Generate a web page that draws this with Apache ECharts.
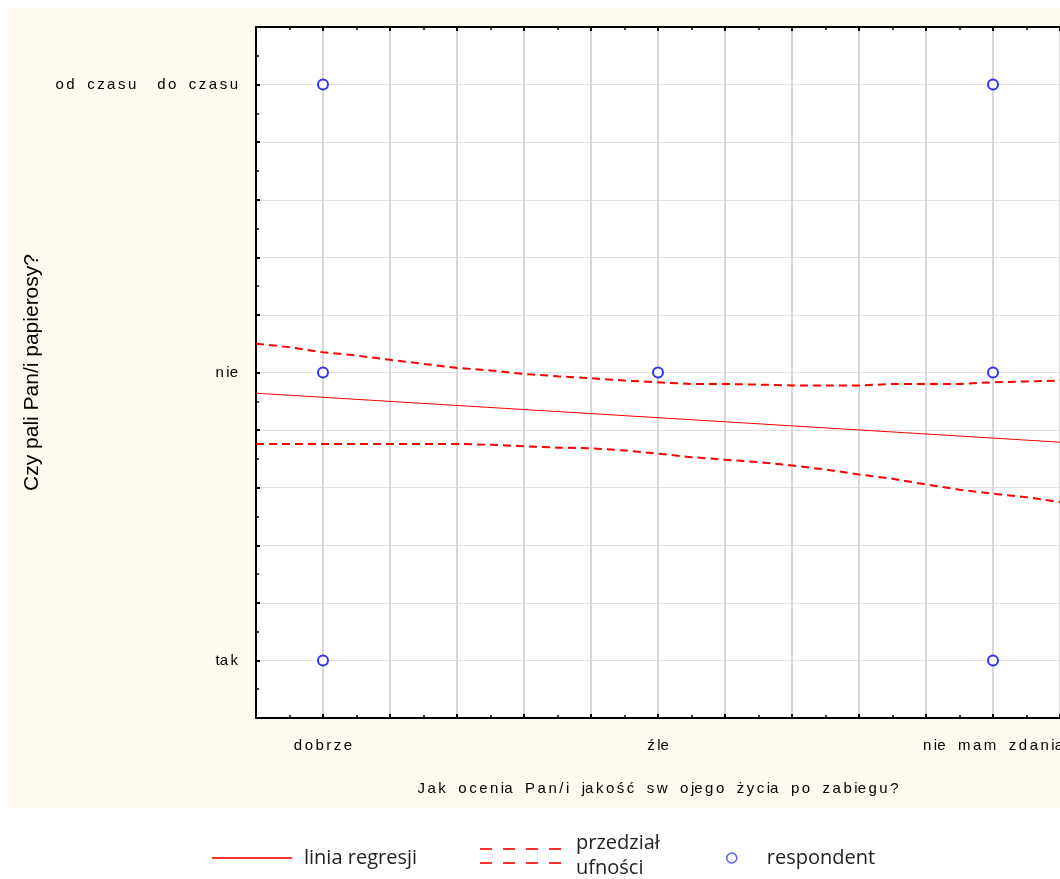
<!DOCTYPE html>
<html>
<head>
<meta charset="utf-8">
<script src="https://cdn.jsdelivr.net/npm/echarts@6/dist/echarts.min.js"></script>
<style>
html,body{margin:0;padding:0;background:#fff;}
#chart{width:1060px;height:879px;}
</style>
</head>
<body>
<div id="chart"></div>
<script>
// ---- data ----
const xCategories = ['dobrze', 'źle', 'nie mam zdania'];
const yCategories = ['tak', 'nie', 'od czasu do czasu'];
// tick labels as printed (letter-spaced: "_" = narrow gap, " " = word gap)
const xTickLabels = ['d_o_b_r_z_e', 'ź_le', 'n_ie   m_a_m   z_d_a_n_ia'];
const yTickLabels = ['ta_k', 'n_ie', 'o_d   c_z_a_s_u     d_o   c_z_a_s_u'];
const xTitle = 'J_a_k   o_c_e_n_ia   P_a_n_/_i   ja_k_o_ś_ć   s_w   o_je_g_o   ż_y_c_ia   p_o   z_a_b_ie_g_u_?';
const yTitle = 'Czy pali Pan/i papierosy?';
// respondents: [x category index (1-based), y category index (1-based)]
const respondents = [[1, 3], [3, 3], [1, 2], [2, 2], [3, 2], [1, 1], [3, 1]];
// regression line endpoints
const regression = [[0.8, 1.928], [3.2, 1.758]];
// confidence band
const bandX = [0.8, 0.9, 1.0, 1.1, 1.2, 1.3, 1.4, 1.5, 1.6, 1.7, 1.8, 1.9, 2.0, 2.1, 2.2, 2.3, 2.4, 2.5, 2.6, 2.7, 2.8, 2.9, 3.0, 3.1, 3.2];
const upperBand = [2.100, 2.088, 2.070, 2.059, 2.044, 2.030, 2.016, 2.007, 1.995, 1.987, 1.980, 1.972, 1.966, 1.960, 1.960, 1.958, 1.955, 1.955, 1.955, 1.960, 1.960, 1.960, 1.966, 1.969, 1.972];
const lowerBand = [1.752, 1.752, 1.752, 1.752, 1.752, 1.752, 1.752, 1.749, 1.744, 1.739, 1.737, 1.729, 1.718, 1.706, 1.697, 1.689, 1.677, 1.663, 1.646, 1.631, 1.611, 1.593, 1.579, 1.567, 1.550];

// ---- chart ----
const spaced = s => s.replace(/_/g, '\u2006');
const axisFont = '"Liberation Sans", Arial, sans-serif';
const isInt = v => Math.abs(v - Math.round(v)) < 1e-6;
const legendFont = '"Open Sans", "Noto Sans", sans-serif';

const chart = echarts.init(document.getElementById('chart'));
const option = {
  animation: false,
  backgroundColor: '#ffffff',
  graphic: [{
    type: 'rect', z: -100, silent: true,
    shape: { x: 8, y: 8, width: 1052, height: 800 },
    style: { fill: '#fefaf0' }
  }],
  grid: { left: 256, right: 0, top: 27, bottom: 161, containLabel: false, outerBoundsMode: 'none',
          show: true, backgroundColor: '#ffffff', borderWidth: 0 },
  xAxis: [{
    type: 'value', min: 0.8, max: 3.2, interval: 0.2,
    position: 'bottom',
    axisLine: { show: true, onZero: false, lineStyle: { color: '#000', width: 2 } },
    axisTick: { show: true, inside: true, length: 4, lineStyle: { color: '#000', width: 2 } },
    minorTick: { show: true, splitNumber: 2, length: 3, lineStyle: { color: '#000', width: 1.5 } },
    splitLine: { show: true, lineStyle: { color: '#d8d8d8', width: 2 } },
    axisLabel: {
      margin: 20, color: '#000', fontFamily: axisFont, fontSize: 15,
      formatter: v => isInt(v) && xTickLabels[Math.round(v) - 1] ? spaced(xTickLabels[Math.round(v) - 1]) : ''
    },
    name: spaced(xTitle), nameLocation: 'middle', nameGap: 63, nameMoveOverlap: false,
    nameTextStyle: { color: '#000', fontFamily: axisFont, fontSize: 15 }
  }, {
    type: 'value', min: 0.8, max: 3.2, interval: 0.2,
    position: 'top',
    axisLine: { show: true, onZero: false, lineStyle: { color: '#000', width: 2 } },
    axisTick: { show: true, inside: true, length: 4, lineStyle: { color: '#000', width: 2 } },
    minorTick: { show: true, splitNumber: 2, length: 3, lineStyle: { color: '#000', width: 1.5 } },
    splitLine: { show: false },
    axisLabel: { show: false }
  }],
  yAxis: [{
    type: 'value', min: 0.8, max: 3.2, interval: 0.2,
    axisLine: { show: true, onZero: false, lineStyle: { color: '#000', width: 2 } },
    axisTick: { show: true, inside: true, length: 4, lineStyle: { color: '#000', width: 2 } },
    minorTick: { show: true, splitNumber: 2, length: 3, lineStyle: { color: '#000', width: 1.5 } },
    splitLine: { show: true, lineStyle: { color: '#e2e2e2', width: 1 } },
    axisLabel: {
      margin: 18, color: '#000', fontFamily: axisFont, fontSize: 15,
      formatter: v => isInt(v) && yTickLabels[Math.round(v) - 1] ? spaced(yTickLabels[Math.round(v) - 1]) : ''
    },
    name: yTitle, nameLocation: 'middle', nameGap: 213, nameRotate: 90, nameMoveOverlap: false,
    nameTextStyle: { color: '#000', fontFamily: '"Liberation Sans", Arial, sans-serif', fontSize: 21 }
  }],
  legend: [{
    left: 207, top: 843, itemWidth: 80, itemHeight: 2,
    data: [{ name: 'linia regresji', icon: 'path://M0,0H80V2H0Z', itemStyle: { color: '#ff3030', borderWidth: 0 } }],
    textStyle: { color: '#222', fontFamily: legendFont, fontSize: 20, padding: [0, 0, 0, 7] }
  }, {
    left: 475, top: 826, itemWidth: 81, itemHeight: 16,
    data: [{ name: 'przedział ufności',
      icon: 'path://M0,0h12v2h-12z M23,0h12v2h-12z M46,0h12v2h-12z M69,0h12v2h-12z M0,14h12v2h-12z M23,14h12v2h-12z M46,14h12v2h-12z M69,14h12v2h-12z',
      itemStyle: { color: '#ff3030', borderWidth: 0 } }],
    formatter: () => 'przedział\nufności',
    textStyle: { color: '#222', fontFamily: legendFont, fontSize: 20, lineHeight: 25, padding: [0, 0, 0, 10] }
  }, {
    left: 721, top: 843, itemWidth: 10, itemHeight: 10,
    data: [{ name: 'respondent', icon: 'circle', itemStyle: { color: '#ffffff', borderColor: '#3333ff', borderWidth: 1.5 } }],
    textStyle: { color: '#222', fontFamily: legendFont, fontSize: 20, padding: [0, 0, 0, 25] }
  }],
  series: [{
    name: 'linia regresji', type: 'line', data: regression,
    showSymbol: false, symbol: 'none', color: '#ff0000',
    lineStyle: { color: '#ff0000', width: 1 }, z: 3
  }, {
    name: 'przedział ufności', type: 'line', data: bandX.map((x, i) => [x, upperBand[i]]),
    showSymbol: false, symbol: 'none', color: '#ff0000',
    lineStyle: { color: '#ff0000', width: 2, type: [8, 5] }, z: 3
  }, {
    name: 'przedział ufności', type: 'line', data: bandX.map((x, i) => [x, lowerBand[i]]),
    showSymbol: false, symbol: 'none', color: '#ff0000',
    lineStyle: { color: '#ff0000', width: 2, type: [8, 5] }, z: 3
  }, {
    name: 'respondent', type: 'scatter', data: respondents,
    symbol: 'circle', symbolSize: 10,
    itemStyle: { color: '#ffffff', borderColor: '#0000ff', borderWidth: 2 }, z: 4
  }]
};
chart.setOption(option);
</script>
</body>
</html>
